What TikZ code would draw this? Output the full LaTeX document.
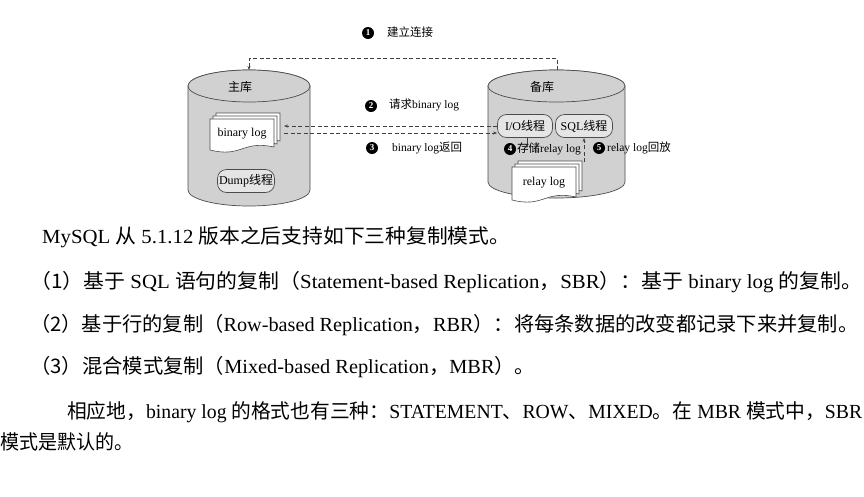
\documentclass[tikz,border=0pt]{standalone}
\usepackage{fontspec}
\usepackage{graphicx}
\usetikzlibrary{arrows.meta}
\setmainfont{Liberation Serif}
\newfontfamily\cjk{Noto Sans CJK SC}
\newcommand{\zh}[1]{{\cjk #1}}
\newcommand{\fitw}[2]{\resizebox{#1pt}{\height}{#2}}
\begin{document}
\begin{tikzpicture}[x=1pt,y=-1pt,
  cyl/.style={draw=black!70,fill=black!18,line width=0.7pt},
  rbox/.style={draw=black!70,fill=black!10,rounded corners=9pt,line width=0.7pt,minimum height=23pt,inner sep=1pt,font=\fontsize{12}{12}\selectfont},
  dsh/.style={dash pattern=on 4pt off 2.5pt,line width=0.9pt,black!75},
  num/.style={circle,fill=black,text=white,inner sep=0pt,minimum size=12pt,font=\fontsize{9}{9}\selectfont\bfseries},
  lbl/.style={font=\fontsize{11.5}{11.5}\selectfont,anchor=west,inner sep=0pt},
  body/.style={font=\fontsize{20}{20}\selectfont,anchor=west,inner sep=0pt}]
\useasboundingbox (0,0) rectangle (864,496);
% cylinders
\newcommand{\cylinder}[5]{% x1 x2 ytop ybot name
  \path[cyl] (#1,#3) -- (#1,#4) arc[start angle=180,end angle=360,x radius={(#2-#1)/2},y radius=-16] -- (#2,#3) arc[start angle=0,end angle=-180,x radius={(#2-#1)/2},y radius=16] -- cycle;
  \path[cyl] ({(#1+#2)/2},#3) ellipse[x radius={(#2-#1)/2},y radius=16];
  \coordinate (#5) at ({(#1+#2)/2},#3);}
\cylinder{188}{310}{86}{190}{mtop}
\cylinder{488}{625}{86}{182}{stop}
\node[font=\fontsize{12}{12}\selectfont\cjk] (m) at (240,87) {主库};
\node[font=\fontsize{12}{12}\selectfont\cjk] (s) at (542,87) {备库};
% documents
\newcommand{\doc}[6]{% x1 y1 x2 y2 text name
  \foreach \d in {6,3}{
    \path[draw=black!70,fill=white,line width=0.6pt] (#1+\d,#2-\d) -- (#3+\d,#2-\d) -- (#3+\d,#4-\d-3) .. controls ({(#1+#3)/2+\d},#4-\d-10) and ({(#1+#3)/2+\d},#4-\d+8) .. (#1+\d,#4-\d) -- cycle;}
  \path[draw=black!70,fill=white,line width=0.6pt] (#1,#2) -- (#3,#2) -- (#3,#4-3) .. controls ({(#1+#3)/2},#4-10) and ({(#1+#3)/2},#4+8) .. (#1,#4) -- cycle;
  \node[font=\fontsize{12}{12}\selectfont] (#6) at ({(#1+#3)/2},{(#2+#4)/2-1}) {#5};}
\doc{210}{119}{274}{150}{binary log}{bl}
\doc{512}{167}{576}{200}{relay log}{rl}
\coordinate (blr) at (284,126);
\coordinate (blr2) at (284,133);
\node[rbox,minimum width=57pt] (dump) at (246,181) {Dump\zh{线程}};
\node[rbox,minimum width=55pt] (io) at (525,126) {I/O\zh{线程}};
\node[rbox,minimum width=57pt] (sql) at (584,126) {SQL\zh{线程}};
% connectors
\coordinate (t1) at (557,70);
\coordinate (t2) at (249,70);
\draw[dsh,-{Stealth[length=4pt]}] (t1) -- (557,58) -- (249,58) -- (t2);
\draw[dsh,-{Stealth[length=4pt]}] (io.west |- 0,126) -- (blr);
\draw[dsh,-{Stealth[length=4pt]}] (blr2) -- (io.west |- 0,133);
\draw[black!75,line width=0.7pt,-{Stealth[length=4pt]}] (io.south west)++(30,0) coordinate (i4) -- ++(0,10);
\draw[dsh,-{Stealth[length=4pt]}] (584,162) -- (584,138);
% labels
\node[num] (n1) at (368,33) {1}; \node[lbl] (l1) at (387,32) {\zh{建立连接}};
\node[num] (n2) at (371,106) {2}; \node[lbl] (l2) at (389,105) {\zh{请求}binary log};
\node[num] (n3) at (372,148) {3}; \node[lbl] (l3) at (392,148) {binary log\zh{返回}};
\node[num] (n4) at (510,149) {4}; \node[lbl] (l4) at (517,149) {\zh{存储}relay log};
\node[num] (n5) at (599,148) {5}; \node[lbl] (l5) at (607,148) {relay log\zh{回放}};
% body text
\node[body] (p1) at (42,237) {\fitw{468}{MySQL \zh{从} 5.1.12 \zh{版本之后支持如下三种复制模式。}}};
\node[body] (p2) at (30,282) {\fitw{832}{\zh{（1）基于} SQL \zh{语句的复制（}Statement-based Replication\zh{，}SBR\zh{）：基于} binary log \zh{的复制。}}};
\node[body] (p3) at (30,325) {\fitw{828}{\zh{（2）基于行的复制（}Row-based Replication\zh{，}RBR\zh{）：将每条数据的改变都记录下来并复制。}}};
\node[body] (p4) at (30,367) {\fitw{505}{\zh{（3）混合模式复制（}Mixed-based Replication\zh{，}MBR\zh{）。}}};
\node[body] (p5) at (67,412) {\fitw{795}{\zh{相应地，}binary log \zh{的格式也有三种：}STATEMENT\zh{、}ROW\zh{、}MIXED\zh{。在} MBR \zh{模式中，}SBR}};
\node[body] (p6) at (0,442) {\fitw{133}{\zh{模式是默认的。}}};
\end{tikzpicture}
\end{document}
